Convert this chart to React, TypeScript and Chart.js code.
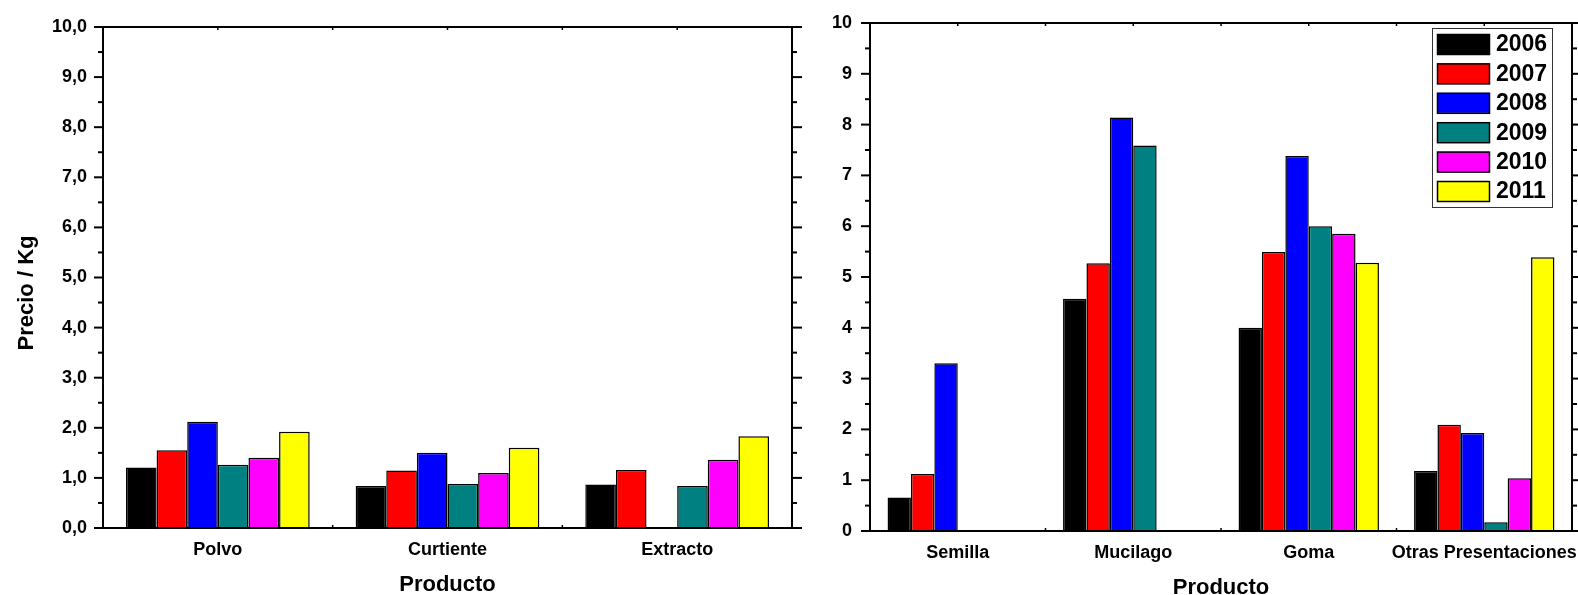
import React, { useEffect, useRef } from 'react';
import { Chart, registerables } from 'chart.js';

Chart.register(...registerables);

// ---------- data ----------
const years = ['2006', '2007', '2008', '2009', '2010', '2011'];
const barColors = ['#000000', '#FF0000', '#0000FF', '#008080', '#FF00FF', '#FFFF00'];

const leftCategories = ['Polvo', 'Curtiente', 'Extracto'];
const left2006 = [1.21, 0.84, 0.87];
const left2007 = [1.55, 1.15, 1.16];
const left2008 = [2.12, 1.5, null];
const left2009 = [1.26, 0.88, 0.84];
const left2010 = [1.4, 1.1, 1.36];
const left2011 = [1.92, 1.6, 1.83];

const rightCategories = ['Semilla', 'Mucilago', 'Goma', 'Otras Presentaciones'];
const right2006 = [0.66, 4.57, 4.0, 1.18];
const right2007 = [1.12, 5.27, 5.49, 2.09];
const right2008 = [3.3, 8.14, 7.38, 1.93];
const right2009 = [null, 7.59, 6.0, 0.17];
const right2010 = [null, null, 5.85, 1.04];
const right2011 = [null, null, 5.28, 5.39];

const leftYTickLabels = ['0,0', '1,0', '2,0', '3,0', '4,0', '5,0', '6,0', '7,0', '8,0', '9,0', '10,0'];
const rightYTickLabels = ['0', '1', '2', '3', '4', '5', '6', '7', '8', '9', '10'];

const yTitle = 'Precio / Kg';
const xTitle = 'Producto';

const FONT = '"Liberation Sans", Arial, Helvetica, sans-serif';

// ---------- plugins ----------
const framePlugin = {
  id: 'frame',
  afterDraw(chart: any, _args: any, opts: any) {
    const { ctx, chartArea } = chart;
    const { left, right, top, bottom } = chartArea;
    const x = chart.scales.x;
    const y = chart.scales.y;
    ctx.save();
    ctx.strokeStyle = '#000';
    ctx.lineWidth = 2;
    ctx.strokeRect(left, top, right - left, bottom - top);
    const line = (x1: number, y1: number, x2: number, y2: number) => {
      ctx.beginPath();
      ctx.moveTo(x1, y1);
      ctx.lineTo(x2, y2);
      ctx.stroke();
    };
    for (let v = 0; v <= 10; v += 0.5) {
      const py = y.getPixelForValue(v);
      const major = Math.abs(v - Math.round(v)) < 1e-6;
      line(left - (major ? opts.leftMajor : opts.leftMinor), py, left, py);
      line(right, py, right + (major ? opts.rightMajor : opts.rightMinor), py);
    }
    const n = chart.data.labels.length;
    const c0 = x.getPixelForValue(0);
    const c1 = x.getPixelForValue(1);
    const half = (c1 - c0) / 2;
    ctx.lineWidth = 1.5;
    for (let i = 0; i < n; i++) {
      const c = x.getPixelForValue(i);
      line(c, top, c, top + 3);
      if (i > 0) {
        line(c - half, top, c - half, top + 3);
        line(c - half, bottom, c - half, bottom - 3);
      }
    }
    // titles
    ctx.fillStyle = '#000';
    ctx.font = `bold ${opts.xTitleSize}px ${FONT}`;
    ctx.textAlign = 'center';
    ctx.textBaseline = 'alphabetic';
    ctx.fillText(opts.xTitle, (left + right) / 2, opts.xTitleBaseline);
    if (opts.yTitle) {
      ctx.save();
      ctx.translate(opts.yTitleBaselineX, opts.yTitleCenterY);
      ctx.rotate(-Math.PI / 2);
      ctx.font = `bold ${opts.yTitleSize}px ${FONT}`;
      ctx.fillText(opts.yTitle, 0, 0);
      ctx.restore();
    }
    ctx.restore();
  },
};

const boxLegendPlugin = {
  id: 'boxLegend',
  afterDraw(chart: any, _args: any, opts: any) {
    if (!opts || !opts.show) return;
    const { ctx } = chart;
    const ds = chart.data.datasets;
    ctx.save();
    ctx.fillStyle = '#fff';
    ctx.fillRect(opts.x, opts.y, opts.w, opts.h);
    ctx.strokeStyle = '#333';
    ctx.lineWidth = 1;
    ctx.strokeRect(opts.x + 0.5, opts.y + 0.5, opts.w, opts.h);
    ctx.font = `bold ${opts.fontSize}px ${FONT}`;
    ctx.textAlign = 'left';
    ctx.textBaseline = 'middle';
    ds.forEach((d: any, i: number) => {
      const sy = opts.y + opts.firstOffset + i * opts.rowGap;
      ctx.fillStyle = d.backgroundColor;
      ctx.fillRect(opts.x + 5, sy, opts.swW, opts.swH);
      ctx.strokeStyle = '#000';
      ctx.lineWidth = 1.5;
      ctx.strokeRect(opts.x + 5.5, sy + 0.5, opts.swW, opts.swH);
      ctx.fillStyle = '#000';
      ctx.fillText(d.label, opts.x + 5 + opts.swW + 7, sy + opts.swH / 2 + 1);
    });
    ctx.restore();
  },
};

function makeDatasets(series: (number | null)[][]) {
  return series.map((data, i) => ({
    label: years[i],
    data,
    backgroundColor: barColors[i],
    borderColor: '#000000',
    borderWidth: 1.5,
    categoryPercentage: 0.8,
    barPercentage: 1.0,
  }));
}

function buildConfig(p: any) {
  return {
    type: 'bar',
    data: { labels: p.categories, datasets: makeDatasets(p.series) },
    plugins: [framePlugin, boxLegendPlugin],
    options: {
      animation: false,
      responsive: false,
      devicePixelRatio: 1,
      layout: { padding: { top: p.padTop, right: p.padRight, left: 0, bottom: 0 } },
      plugins: {
        legend: { display: false },
        tooltip: { enabled: false },
        frame: p.frame,
        boxLegend: p.legend || { show: false },
      },
      scales: {
        x: {
          type: 'category',
          grid: { display: false, drawTicks: false },
          border: { display: false },
          ticks: {
            color: '#000',
            font: { family: FONT, size: 18, weight: 'bold' },
            padding: 11,
            maxRotation: 0,
            autoSkip: false,
          },
          afterFit(scale: any) {
            scale.height = p.xHeight;
            scale.paddingLeft = 0;
            scale.paddingRight = 0;
          },
        },
        y: {
          min: 0,
          max: 10,
          grid: { display: false, drawTicks: false },
          border: { display: false },
          ticks: {
            stepSize: 1,
            color: '#000',
            font: { family: FONT, size: 18, weight: 'bold' },
            padding: p.yPad,
            callback: (v: any) => p.yLabels[Math.round(Number(v))],
          },
          afterFit(scale: any) {
            scale.width = p.yWidth;
            scale.paddingTop = 0;
            scale.paddingBottom = 0;
          },
        },
      },
    },
  };
}

function ChartCanvas({ cfg, width, height, left }: any) {
  const ref = useRef<HTMLCanvasElement | null>(null);
  useEffect(() => {
    if (!ref.current) return;
    const chart = new Chart(ref.current, cfg);
    return () => chart.destroy();
  }, []);
  return (
    <canvas
      ref={ref}
      width={width}
      height={height}
      style={{ position: 'absolute', left, top: 0, width, height }}
    />
  );
}

export default function App() {
  const leftCfg = buildConfig({
    categories: leftCategories,
    series: [left2006, left2007, left2008, left2009, left2010, left2011],
    yLabels: leftYTickLabels,
    padTop: 27,
    padRight: 13,
    xHeight: 67,
    yWidth: 103,
    yPad: 16,
    frame: {
      leftMajor: 9,
      leftMinor: 5,
      rightMajor: 10,
      rightMinor: 5,
      xTitle,
      xTitleSize: 22,
      xTitleBaseline: 591,
      yTitle,
      yTitleSize: 22,
      yTitleBaselineX: 33,
      yTitleCenterY: 293,
    },
  });
  const rightCfg = buildConfig({
    categories: rightCategories,
    series: [right2006, right2007, right2008, right2009, right2010, right2011],
    yLabels: rightYTickLabels,
    padTop: 23,
    padRight: 6,
    xHeight: 64,
    yWidth: 65,
    yPad: 18,
    frame: {
      leftMajor: 9,
      leftMinor: 5,
      rightMajor: 10,
      rightMinor: 5,
      xTitle,
      xTitleSize: 22,
      xTitleBaseline: 594,
    },
    legend: {
      show: true,
      x: 1432 - 805,
      y: 28,
      w: 120,
      h: 179,
      swW: 52,
      swH: 20,
      firstOffset: 6,
      rowGap: 29.4,
      fontSize: 23,
    },
  });
  return (
    <div style={{ position: 'fixed', left: 0, top: 0, width: 1578, height: 595, background: '#fff', overflow: 'hidden' }}>
      <ChartCanvas cfg={leftCfg} width={805} height={595} left={0} />
      <ChartCanvas cfg={rightCfg} width={773} height={595} left={805} />
    </div>
  );
}
